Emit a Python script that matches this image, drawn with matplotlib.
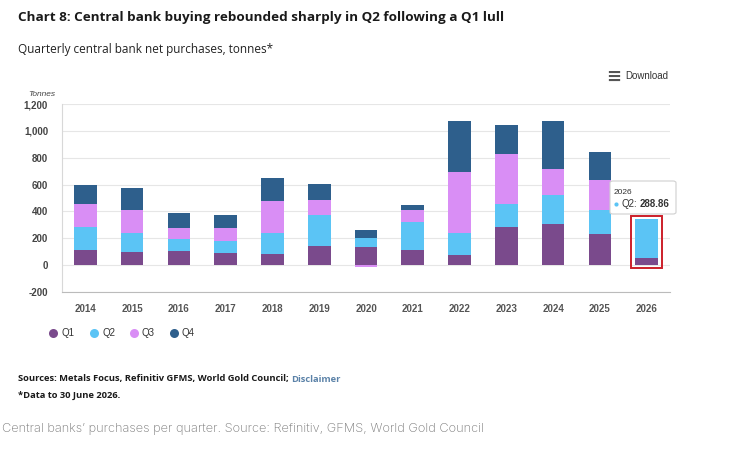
import matplotlib
matplotlib.use("Agg")
import matplotlib.pyplot as plt
import numpy as np
from matplotlib.lines import Line2D
from matplotlib.patches import Rectangle, FancyBboxPatch

years = ["2014", "2015", "2016", "2017", "2018", "2019", "2020",
         "2021", "2022", "2023", "2024", "2025", "2026"]
q1 = [114, 101, 109, 89, 82, 143, 136, 111, 77, 284, 306, 230, 54]
q2 = [170, 141, 84, 94, 155, 232, 69, 213, 160, 175, 215, 180, 288.86]
q3 = [175, 170, 86, 96, 240, 109, -12, 88, 460, 366, 195, 227, 0]
q4 = [136, 163, 109, 94, 173, 119, 59, 33, 375, 220, 361, 208, 0]
quarters = ["Q1", "Q2", "Q3", "Q4"]
colors = ["#7a4a8c", "#5bc4f5", "#d98ef5", "#2e5f8c"]
yticks = [-200, 0, 200, 400, 600, 800, 1000, 1200]

W, H = 739, 454
fig = plt.figure(figsize=(W / 100, H / 100), dpi=100)
ax = fig.add_axes([62 / W, 1 - 292 / H, (670 - 62) / W, (292 - 104) / H])

x = np.arange(len(years))
series = [q1, q2, q3, q4]
pos_base = np.zeros(len(years))
neg_base = np.zeros(len(years))
for vals, col, name in zip(series, colors, quarters):
    vals = np.array(vals, dtype=float)
    bottoms = np.where(vals >= 0, pos_base, neg_base)
    ax.bar(x, vals, bottom=bottoms, width=0.485, color=col, label=name,
           linewidth=0, zorder=3)
    pos_base = pos_base + np.clip(vals, 0, None)
    neg_base = neg_base + np.clip(vals, None, 0)

ax.set_xlim(-0.5, len(years) - 0.5)
ax.set_ylim(-200, 1200)
ax.set_yticks(yticks)
ax.set_yticklabels([f"{v:,}" for v in yticks])
ax.set_xticks(x)
ax.set_xticklabels(years)
ax.grid(axis="y", color="#e6e6e6", linewidth=0.8, zorder=0)
for s in ["top", "right"]:
    ax.spines[s].set_visible(False)
ax.spines["left"].set_color("#d8d8d8")
ax.spines["bottom"].set_color("#bbbbbb")
ax.tick_params(axis="both", length=0)
ax.tick_params(axis="y", pad=10)
ax.tick_params(axis="x", pad=9)
for t in ax.get_yticklabels():
    t.set_fontfamily("Liberation Sans")
    t.set_fontsize(7)
    t.set_color("#444444")
    t.set_fontweight("bold")
for t in ax.get_xticklabels():
    t.set_fontfamily("Liberation Sans")
    t.set_fontsize(7)
    t.set_color("#555555")
    t.set_fontweight("bold")

# highlight box around the 2026 bar
last = len(years) - 1
top_last = q1[last] + q2[last]
ax.add_patch(Rectangle((last - 0.33, -20), 0.66, top_last + 40,
                       fill=False, edgecolor="#cc1f2a", linewidth=1.4,
                       zorder=4, clip_on=False))

# tooltip
tip = FancyBboxPatch((610 / W, 1 - 214 / H), 66 / W, 33 / H,
                     boxstyle="round,pad=0,rounding_size=0.004",
                     transform=fig.transFigure, facecolor="white",
                     edgecolor="#d0d0d0", linewidth=0.8, zorder=1)
fig.patches.append(tip)
fig.text(614 / W, 1 - 192 / H, years[last], fontsize=6, color="#333333",
         family="Liberation Sans", va="center")
fig.add_artist(Line2D([616 / W], [1 - 204 / H], marker="o", markersize=3,
                      markerfacecolor=colors[1], markeredgewidth=0,
                      transform=fig.transFigure))
fig.text(621 / W, 1 - 204 / H, f"{quarters[1]}:", fontsize=7,
         color="#333333", family="Liberation Sans", va="center")
fig.text(640 / W, 1 - 204 / H, f"{q2[last]:.2f}", fontsize=7,
         color="#333333", family="Liberation Sans", va="center",
         fontweight="bold")

# titles
fig.text(18 / W, 1 - 18 / H,
         "Chart 8: Central bank buying rebounded sharply in Q2 following a Q1 lull",
         fontsize=9.7, fontweight="bold", family="Open Sans", color="#1a1a1a",
         va="center")
fig.text(18 / W, 1 - 50 / H, "Quarterly central bank net purchases, tonnes*",
         fontsize=8.5, family="Open Sans", color="#222222", va="center")
fig.text(28 / W, 1 - 94 / H, "Tonnes", fontsize=6, style="italic",
         family="Liberation Sans", color="#444444", va="center")

# download button
fig.text(606 / W, 1 - 77 / H, "≡", fontsize=13, color="#555555",
         family="DejaVu Sans", va="center", fontweight="bold")
fig.text(625 / W, 1 - 76 / H, "Download", fontsize=7, color="#333333",
         family="Liberation Sans", va="center")

# legend
leg_x = [53, 94, 134, 174]
for lx, name, col in zip(leg_x, quarters, colors):
    fig.add_artist(Line2D([lx / W], [1 - 333 / H], marker="o", markersize=6.5,
                          markerfacecolor=col, markeredgewidth=0,
                          transform=fig.transFigure))
    fig.text((lx + 8) / W, 1 - 333 / H, name, fontsize=7, color="#333333",
             family="Liberation Sans", va="center")

# sources
src = fig.text(18 / W, 1 - 379 / H,
               "Sources: Metals Focus, Refinitiv GFMS, World Gold Council; ",
               fontsize=6.75, fontweight="bold", family="Open Sans",
               color="#1a1a1a", va="center")
fig.canvas.draw()
bb = src.get_window_extent()
fig.text(bb.x1 / W, 1 - 379 / H, "Disclaimer", fontsize=6.75,
         fontweight="bold", family="Open Sans", color="#5b82a8",
         va="center")
fig.text(18 / W, 1 - 395 / H, "*Data to 30 June 2026.", fontsize=6.75,
         fontweight="bold", family="Open Sans", color="#1a1a1a",
         va="center")
fig.text(2 / W, 1 - 429 / H,
         "Central banks\u2019 purchases per quarter. Source: Refinitiv, GFMS, World Gold Council",
         fontsize=9.2, family="Inter", color="#7a7a7a", va="center",
         fontweight="light")

fig.savefig("out.png", dpi=100, facecolor="white")
